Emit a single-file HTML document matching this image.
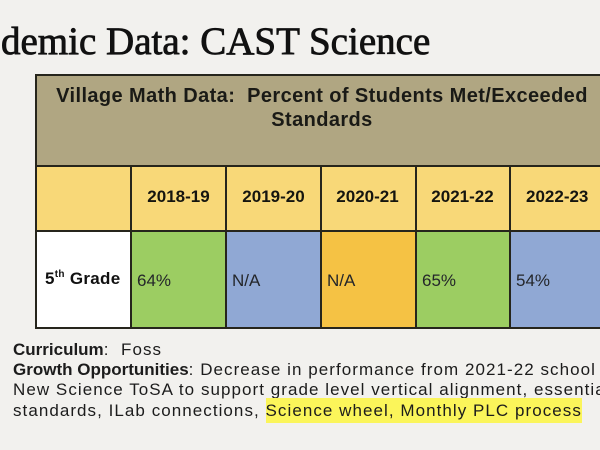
<!DOCTYPE html>
<html>
<head>
<meta charset="utf-8">
<style>
  html, body { margin:0; padding:0; }
  body { width:600px; height:450px; overflow:hidden; position:relative; background:#f2f1ee; font-family:"Liberation Sans", sans-serif; color:#1b1b1b; }
  .abs { position:absolute; white-space:nowrap; }
  .title { left:1px; top:21.6px; font-family:"Liberation Serif", serif; font-size:39px; line-height:39px; color:#111; -webkit-text-stroke:0.8px #111; }
  .cell { position:absolute; }
  .hline { position:absolute; background:#26251c; height:2px; }
  .vline { position:absolute; background:#26251c; width:2px; }
  .hdr { left:40px; width:564px; text-align:center; font-weight:bold; font-size:20px; line-height:24px; letter-spacing:0.4px; color:#1a1a16; }
  .yr { position:absolute; top:187px; font-weight:bold; font-size:17px; line-height:20px; text-align:center; width:95px; color:#15150f; }
  .val { position:absolute; top:270.5px; font-size:17px; line-height:20px; color:#24262a; }
  .clip { position:absolute; left:13px; width:587px; height:20px; overflow:hidden; }
  .txt { font-size:17px; line-height:20px; letter-spacing:1.05px; color:#1c1c1c; white-space:nowrap; }
  .txt b { letter-spacing:0; }
  .hl { background:#fbf55a; padding:3px 0 3px 0; }
</style>
</head>
<body>
  <div class="abs title">demic Data: CAST Science</div>

  <!-- fills -->
  <div class="cell" style="left:36px;top:75px;width:564px;height:91px;background:#b0a682;"></div>
  <div class="cell" style="left:36px;top:166px;width:564px;height:65px;background:#f8d878;"></div>
  <div class="cell" style="left:36px;top:231px;width:95px;height:97px;background:#ffffff;"></div>
  <div class="cell" style="left:131px;top:231px;width:95px;height:97px;background:#9ccd62;"></div>
  <div class="cell" style="left:226px;top:231px;width:94px;height:97px;background:#90a8d4;"></div>
  <div class="cell" style="left:320px;top:231px;width:95px;height:97px;background:#f5c244;"></div>
  <div class="cell" style="left:415px;top:231px;width:95px;height:97px;background:#9ccd62;"></div>
  <div class="cell" style="left:510px;top:231px;width:90px;height:97px;background:#90a8d4;"></div>

  <!-- lines -->
  <div class="hline" style="left:35px;top:74px;width:565px;"></div>
  <div class="hline" style="left:35px;top:165px;width:565px;"></div>
  <div class="hline" style="left:35px;top:230px;width:565px;"></div>
  <div class="hline" style="left:35px;top:326.5px;width:565px;"></div>
  <div class="vline" style="left:35px;top:74px;height:255px;"></div>
  <div class="vline" style="left:130px;top:165px;height:164px;"></div>
  <div class="vline" style="left:225px;top:165px;height:164px;"></div>
  <div class="vline" style="left:319.5px;top:165px;height:164px;"></div>
  <div class="vline" style="left:414.5px;top:165px;height:164px;"></div>
  <div class="vline" style="left:509px;top:165px;height:164px;"></div>

  <!-- header text -->
  <div class="abs hdr" style="top:84px;">Village Math Data:&nbsp; Percent of Students Met/Exceeded</div>
  <div class="abs hdr" style="top:108px;">Standards</div>

  <!-- years -->
  <div class="yr" style="left:131px;">2018-19</div>
  <div class="yr" style="left:226px;">2019-20</div>
  <div class="yr" style="left:320px;">2020-21</div>
  <div class="yr" style="left:415px;">2021-22</div>
  <div class="yr" style="left:510px;text-align:left;padding-left:16px;width:74px;">2022-23</div>

  <!-- row -->
  <div class="abs" style="left:45px;top:268.5px;font-weight:bold;font-size:17px;line-height:20px;letter-spacing:0.3px;color:#111;">5<sup style="font-size:10px;line-height:0;vertical-align:7px;">th</sup> Grade</div>
  <div class="val" style="left:137px;">64%</div>
  <div class="val" style="left:232px;">N/A</div>
  <div class="val" style="left:327px;">N/A</div>
  <div class="val" style="left:422px;">65%</div>
  <div class="val" style="left:516px;">54%</div>

  <!-- bottom text -->
  <div class="clip" style="top:339.5px;"><div class="txt"><b>Curriculum</b>:&nbsp; Foss</div></div>
  <div class="clip" style="top:360px;"><div class="txt"><b>Growth Opportunities</b>: Decrease in performance from 2021-22 school year</div></div>
  <div class="clip" style="top:380px;"><div class="txt">New Science ToSA to support grade level vertical alignment, essential</div></div>
  <div class="clip" style="top:397.5px;height:26px;"><div class="txt" style="padding-top:3px;">standards, ILab connections, <span class="hl">Science wheel, Monthly PLC process</span></div></div>
</body>
</html>
